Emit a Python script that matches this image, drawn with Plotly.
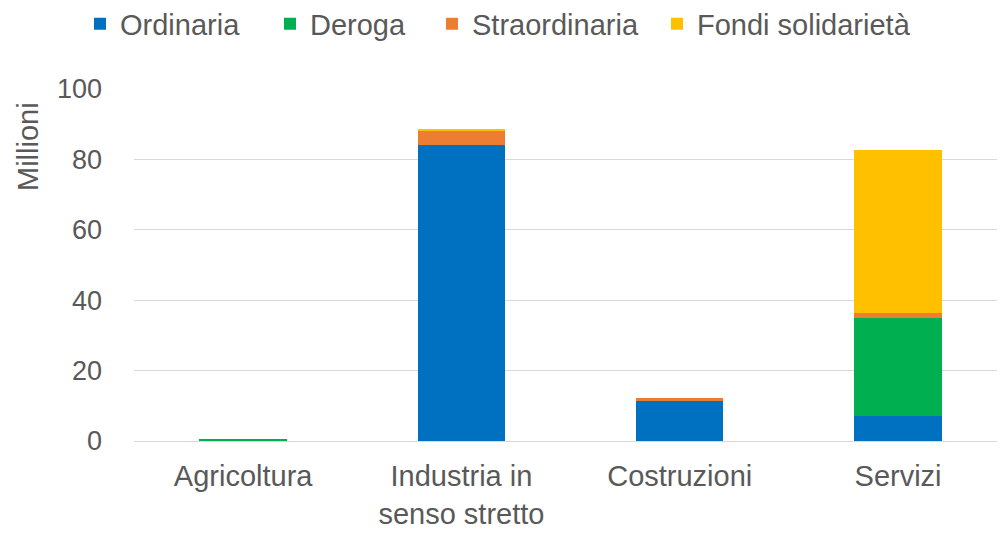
import plotly.graph_objects as go

categories = ["Agricoltura", "Industria in<br>senso stretto", "Costruzioni", "Servizi"]
ordinaria = [0.0, 84.2, 11.5, 7.2]
deroga = [0.6, 0.0, 0.0, 27.8]
straordinaria = [0.0, 3.9, 0.6, 1.3]
fondi = [0.0, 0.3, 0.0, 46.4]

series = [
    ("Ordinaria", ordinaria, "#0070C0"),
    ("Deroga", deroga, "#00B050"),
    ("Straordinaria", straordinaria, "#ED7D31"),
    ("Fondi solidarietà", fondi, "#FFC000"),
]

FONT = "Liberation Sans, Arial, sans-serif"
GREY = "#595959"

# page has an 8px body margin: figure coordinates = page - 8
W, H = 997, 525
ML, MR, MT, MB = 126, 0, 81, 92
PW = W - ML - MR
PH = H - MT - MB

legend_square_page_x = [94, 284, 446, 671]
legend_center_page_y = 24

fig = go.Figure()
legend_layout = {}
for i, (name, vals, col) in enumerate(series):
    key = "legend" if i == 0 else f"legend{i + 1}"
    fig.add_trace(go.Bar(x=categories, y=vals, name=name, marker_color=col,
                         marker_line_width=0, legend=key))
    lx = (legend_square_page_x[i] - 8 - 14 - ML) / PW
    ly = (H - MB - (legend_center_page_y - 8)) / PH
    legend_layout[key] = dict(orientation="h", x=lx, xanchor="left", y=ly,
                              yanchor="middle", font=dict(size=29, color=GREY),
                              itemwidth=30, bgcolor="rgba(0,0,0,0)")

fig.update_layout(
    barmode="stack",
    bargap=0.6,
    width=W, height=H,
    margin=dict(l=ML, r=MR, t=MT, b=MB, autoexpand=False),
    paper_bgcolor="white", plot_bgcolor="white",
    font=dict(family=FONT, size=28, color=GREY),
    showlegend=True,
    **legend_layout,
)
fig.update_xaxes(showgrid=False, showline=False, ticks="",
                 tickfont=dict(size=29, color=GREY), range=[-0.5, 3.49],
                 ticklabelstandoff=15)
fig.update_yaxes(range=[0, 100], dtick=20, showgrid=True, gridcolor="#D9D9D9",
                 gridwidth=1, zeroline=True, zerolinecolor="#D9D9D9", zerolinewidth=1,
                 showline=False, ticks="", ticklabelstandoff=31,
                 tickfont=dict(size=27, color=GREY))
fig.add_annotation(text="Millioni", textangle=-90, xref="paper", yref="paper",
                   x=(28 - 8 - ML) / PW, y=(H - MB - (147 - 8)) / PH,
                   xanchor="center", yanchor="middle", showarrow=False,
                   font=dict(size=29, color=GREY, family=FONT))

fig.write_html("out.html")
